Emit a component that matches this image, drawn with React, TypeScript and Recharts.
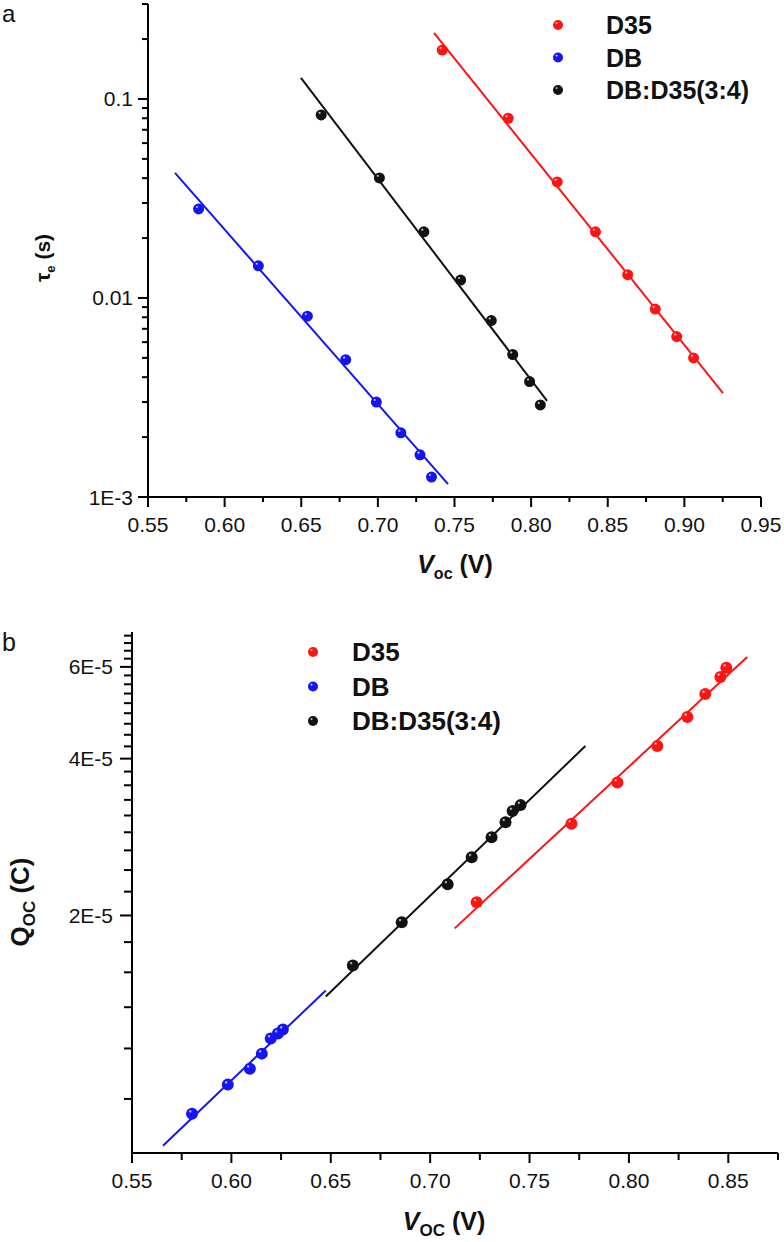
import React from "react";
import { ComposedChart, Scatter, Line, XAxis, YAxis } from "recharts";

// ---------- Panel a : electron lifetime vs Voc ----------
const tauD35X = [0.742, 0.785, 0.817, 0.842, 0.863, 0.881, 0.895, 0.906];
const tauD35Y = [0.176, 0.08, 0.0383, 0.0215, 0.0131, 0.0088, 0.0064, 0.005];
const tauD35FitX = [0.7366, 0.9252];
const tauD35FitY = [0.215, 0.00333];

const tauMixX = [0.663, 0.701, 0.73, 0.754, 0.774, 0.788, 0.799, 0.806];
const tauMixY = [0.0831, 0.0401, 0.0215, 0.0123, 0.0077, 0.0052, 0.0038, 0.0029];
const tauMixFitX = [0.6498, 0.8104];
const tauMixFitY = [0.1276, 0.00304];

const tauDBX = [0.583, 0.622, 0.654, 0.679, 0.699, 0.715, 0.7275, 0.735];
const tauDBY = [0.028, 0.0145, 0.0081, 0.0049, 0.003, 0.0021, 0.00163, 0.00126];
const tauDBFitX = [0.5676, 0.7458];
const tauDBFitY = [0.0425, 0.00116];

const aXMajor = [0.55, 0.6, 0.65, 0.7, 0.75, 0.8, 0.85, 0.9, 0.95];
const aXLabels = ["0.55", "0.60", "0.65", "0.70", "0.75", "0.80", "0.85", "0.90", "0.95"];
const aYMajor = [0.001, 0.01, 0.1];
const aYLabels = ["1E-3", "0.01", "0.1"];

// ---------- Panel b : charge vs Voc ----------
const qD35X = [0.7234, 0.7711, 0.7942, 0.8143, 0.8294, 0.8384, 0.846, 0.849];
const qD35Y = [2.12e-5, 3.0e-5, 3.6e-5, 4.23e-5, 4.81e-5, 5.32e-5, 5.74e-5, 5.98e-5];
const qD35FitX = [0.7123, 0.8595];
const qD35FitY = [1.889e-5, 6.27e-5];

const qMixX = [0.6611, 0.6857, 0.7088, 0.7209, 0.7309, 0.7379, 0.7415, 0.7455];
const qMixY = [1.604e-5, 1.94e-5, 2.295e-5, 2.587e-5, 2.827e-5, 3.02e-5, 3.172e-5, 3.257e-5];
const qMixFitX = [0.6475, 0.7781];
const qMixFitY = [1.398e-5, 4.23e-5];

const qDBX = [0.5802, 0.5982, 0.6093, 0.6153, 0.6198, 0.6234, 0.6259];
const qDBY = [8.33e-6, 9.47e-6, 1.016e-5, 1.086e-5, 1.161e-5, 1.187e-5, 1.208e-5];
const qDBFitX = [0.5656, 0.6475];
const qDBFitY = [7.23e-6, 1.436e-5];

const bXMajor = [0.55, 0.6, 0.65, 0.7, 0.75, 0.8, 0.85];
const bXLabels = ["0.55", "0.60", "0.65", "0.70", "0.75", "0.80", "0.85"];
const bYMajor = [2e-5, 4e-5, 6e-5];
const bYLabels = ["2E-5", "4E-5", "6E-5"];

const seriesNames = ["D35", "DB", "DB:D35(3:4)"];
const RED = "#ff1414";
const BLUE = "#1414f5";
const BLACK = "#111111";
const seriesColors = [RED, BLUE, BLACK];
const gradIds = ["gRed", "gBlue", "gBlack"];

const FONT = "'Liberation Sans', Arial, Helvetica, sans-serif";

const zip = (xs: number[], ys: number[]) => xs.map((x, i) => ({ x, y: ys[i] }));

// tick lists
const aXTicks: number[] = [];
for (let i = 0; i < aXMajor.length; i++) {
  aXTicks.push(aXMajor[i]);
  if (i < aXMajor.length - 1) aXTicks.push((aXMajor[i] + aXMajor[i + 1]) / 2);
}
const aYTicks: number[] = [];
aYMajor.forEach((d) => {
  for (let k = 1; k <= 9; k++) {
    const v = d * k;
    if (v <= 0.3 + 1e-9) aYTicks.push(v);
  }
});
const bXTicks: number[] = [];
for (let i = 0; i < bXMajor.length; i++) {
  bXTicks.push(bXMajor[i]);
  bXTicks.push(bXMajor[i] + 0.025);
}
const bYTicks: number[] = [];
{
  const step = 2e-5;
  for (let m = 0; m <= 3; m++) {
    const base = m * step;
    if (base >= 7e-6 && base <= 7e-5) bYTicks.push(base);
    for (let k = 1; k <= 8; k++) {
      const v = base + (k * step) / 9;
      if (v >= 7e-6 && v <= 7e-5 + 1e-12) bYTicks.push(v);
    }
  }
}

const findLabel = (v: number, majors: number[], labels: string[]) => {
  for (let i = 0; i < majors.length; i++) {
    if (Math.abs(v - majors[i]) <= Math.abs(majors[i]) * 1e-6) return labels[i];
  }
  return null;
};

const makeXTick = (majors: number[], labels: string[], majLen: number, minLen: number) => (props: any) => {
  const { x, y, payload } = props;
  const lab = findLabel(payload.value, majors, labels);
  const len = lab ? majLen : minLen;
  return (
    <g>
      <line x1={x} y1={y} x2={x} y2={y + len} stroke="#000" strokeWidth={2} />
      {lab && (
        <text x={x} y={y + 35} textAnchor="middle" fontSize={21} fontFamily={FONT} fill="#111">
          {lab}
        </text>
      )}
    </g>
  );
};

const makeYTick = (majors: number[], labels: string[], majLen: number, minLen: number, gap: number) => (props: any) => {
  const { x, y, payload } = props;
  const lab = findLabel(payload.value, majors, labels);
  const len = lab ? majLen : minLen;
  return (
    <g>
      <line x1={x - len} y1={y} x2={x} y2={y} stroke="#000" strokeWidth={2} />
      {lab && (
        <text x={x - gap} y={y + 7.5} textAnchor="end" fontSize={21} fontFamily={FONT} fill="#111">
          {lab}
        </text>
      )}
    </g>
  );
};

const makeBall = (idx: number, r: number) => (props: any) => {
  const { cx, cy } = props;
  if (cx == null || cy == null) return <g />;
  return <circle cx={cx} cy={cy} r={r} fill={`url(#${gradIds[idx]})`} />;
};

const Gradients = () => (
  <defs>
    {seriesColors.map((c, i) => (
      <radialGradient key={i} id={gradIds[i]} cx="40%" cy="38%" r="65%" fx="35%" fy="30%">
        <stop offset="0%" stopColor="#ffffff" />
        <stop offset="22%" stopColor={c} />
        <stop offset="100%" stopColor={c} />
      </radialGradient>
    ))}
  </defs>
);

const axisLine = { stroke: "#000", strokeWidth: 2 };

export default function App() {
  const aSeries = [
    { pts: zip(tauD35X, tauD35Y), fit: zip(tauD35FitX, tauD35FitY), c: 0 },
    { pts: zip(tauDBX, tauDBY), fit: zip(tauDBFitX, tauDBFitY), c: 1 },
    { pts: zip(tauMixX, tauMixY), fit: zip(tauMixFitX, tauMixFitY), c: 2 },
  ];
  const bSeries = [
    { pts: zip(qD35X, qD35Y), fit: zip(qD35FitX, qD35FitY), c: 0 },
    { pts: zip(qDBX, qDBY), fit: zip(qDBFitX, qDBFitY), c: 1 },
    { pts: zip(qMixX, qMixY), fit: zip(qMixFitX, qMixFitY), c: 2 },
  ];

  return (
    <div style={{ position: "absolute", left: 0, top: 0, width: 784, height: 1242, background: "#fff", fontFamily: FONT }}>
      <svg width={0} height={0} style={{ position: "absolute" }}>
        <Gradients />
      </svg>

      {/* Panel a */}
      <div style={{ position: "absolute", left: 0, top: 0 }}>
        <ComposedChart width={784} height={600} margin={{ top: 4, right: 23, bottom: 0, left: 0 }}>
          <XAxis
            xAxisId="b"
            type="number"
            dataKey="x"
            domain={[0.55, 0.95]}
            allowDataOverflow
            ticks={aXTicks}
            interval={0}
            tickSize={0}
            tickMargin={0}
            tickLine={false}
            axisLine={axisLine}
            tick={makeXTick(aXMajor, aXLabels, 10, 5)}
            height={103}
          />
          <XAxis xAxisId="t" orientation="top" type="number" dataKey="x" domain={[0.55, 0.95]} tick={false} tickLine={false} axisLine={axisLine} height={0} />
          <YAxis
            yAxisId="l"
            type="number"
            scale="log"
            domain={[0.001, 0.3]}
            allowDataOverflow
            ticks={aYTicks}
            interval={0}
            tickSize={0}
            tickMargin={0}
            tickLine={false}
            axisLine={axisLine}
            tick={makeYTick(aYMajor, aYLabels, 10, 6, 15)}
            width={148}
          />
          <YAxis yAxisId="r" orientation="right" type="number" scale="log" domain={[0.001, 0.3]} tick={false} tickLine={false} axisLine={axisLine} width={0} />
          {aSeries.map((s) => (
            <Line
              key={`al${s.c}`}
              xAxisId="b"
              yAxisId="l"
              data={s.fit}
              dataKey="y"
              stroke={seriesColors[s.c]}
              strokeWidth={2}
              dot={false}
              activeDot={false}
              legendType="none"
              isAnimationActive={false}
            />
          ))}
          {aSeries.map((s) => (
            <Scatter
              key={`as${s.c}`}
              xAxisId="b"
              yAxisId="l"
              name={seriesNames[s.c]}
              data={s.pts}
              dataKey="y"
              fill={seriesColors[s.c]}
              shape={makeBall(s.c, 5.5)}
              isAnimationActive={false}
            />
          ))}
        </ComposedChart>
      </div>

      {/* Panel b */}
      <div style={{ position: "absolute", left: 0, top: 600 }}>
        <ComposedChart width={784} height={642} margin={{ top: 32, right: 6, bottom: 0, left: 0 }}>
          <XAxis
            xAxisId="b"
            type="number"
            dataKey="x"
            domain={[0.55, 0.875]}
            allowDataOverflow
            ticks={bXTicks}
            interval={0}
            tickSize={0}
            tickMargin={0}
            tickLine={false}
            axisLine={axisLine}
            tick={makeXTick(bXMajor, bXLabels, 10, 7)}
            height={89}
          />
          <XAxis xAxisId="t" orientation="top" type="number" dataKey="x" domain={[0.55, 0.875]} tick={false} tickLine={false} axisLine={axisLine} height={0} />
          <YAxis
            yAxisId="l"
            type="number"
            scale="log"
            domain={[7e-6, 7e-5]}
            allowDataOverflow
            ticks={bYTicks}
            interval={0}
            tickSize={0}
            tickMargin={0}
            tickLine={false}
            axisLine={axisLine}
            tick={makeYTick(bYMajor, bYLabels, 12, 8, 19)}
            width={132}
          />
          <YAxis yAxisId="r" orientation="right" type="number" scale="log" domain={[7e-6, 7e-5]} tick={false} tickLine={false} axisLine={axisLine} width={0} />
          {bSeries.map((s) => (
            <Line
              key={`bl${s.c}`}
              xAxisId="b"
              yAxisId="l"
              data={s.fit}
              dataKey="y"
              stroke={seriesColors[s.c]}
              strokeWidth={2}
              dot={false}
              activeDot={false}
              legendType="none"
              isAnimationActive={false}
            />
          ))}
          {bSeries.map((s) => (
            <Scatter
              key={`bs${s.c}`}
              xAxisId="b"
              yAxisId="l"
              name={seriesNames[s.c]}
              data={s.pts}
              dataKey="y"
              fill={seriesColors[s.c]}
              shape={makeBall(s.c, 6)}
              isAnimationActive={false}
            />
          ))}
        </ComposedChart>
      </div>

      {/* Text overlay: panel letters, axis titles, legends */}
      <svg width={784} height={1242} style={{ position: "absolute", left: 0, top: 0, pointerEvents: "none" }}>
        <text x={2} y={22} fontSize={24} fontFamily={FONT} fill="#111">a</text>
        <text x={2} y={651} fontSize={25} fontFamily={FONT} fill="#111">b</text>

        {/* panel a titles */}
        <text transform="translate(50,258) rotate(-90)" textAnchor="middle" fontSize={21} fontWeight="bold" fontFamily={FONT} fill="#111">
          τ<tspan fontSize={13} dy={5}>e</tspan>
          <tspan dy={-5}> (s)</tspan>
        </text>
        <text x={455} y={573} textAnchor="middle" fontSize={25} fontWeight="bold" fontFamily={FONT} fill="#111">
          <tspan fontStyle="italic">V</tspan>
          <tspan fontSize={16} dy={6}>oc</tspan>
          <tspan dy={-6}> (V)</tspan>
        </text>

        {/* panel b titles */}
        <text transform="translate(29,902) rotate(-90)" textAnchor="middle" fontSize={26} fontWeight="bold" fontFamily={FONT} fill="#111">
          Q<tspan fontSize={17} dy={6}>OC</tspan>
          <tspan dy={-6}> (C)</tspan>
        </text>
        <text x={444} y={1230} textAnchor="middle" fontSize={25} fontWeight="bold" fontFamily={FONT} fill="#111">
          <tspan fontStyle="italic">V</tspan>
          <tspan fontSize={17} dy={6}>OC</tspan>
          <tspan dy={-6}> (V)</tspan>
        </text>

        {/* legend a */}
        {seriesNames.map((n, i) => (
          <g key={`la${i}`}>
            <circle cx={558} cy={25 + i * 32.5} r={5} fill={`url(#${gradIds[i]})`} />
            <text x={606} y={34 + i * 32.5} fontSize={25} fontWeight="bold" fontFamily={FONT} fill="#111">{n}</text>
          </g>
        ))}
        {/* legend b */}
        {seriesNames.map((n, i) => (
          <g key={`lb${i}`}>
            <circle cx={313} cy={652 + i * 34.5} r={5} fill={`url(#${gradIds[i]})`} />
            <text x={352} y={661 + i * 34.5} fontSize={26} fontWeight="bold" fontFamily={FONT} fill="#111">{n}</text>
          </g>
        ))}
      </svg>
    </div>
  );
}
